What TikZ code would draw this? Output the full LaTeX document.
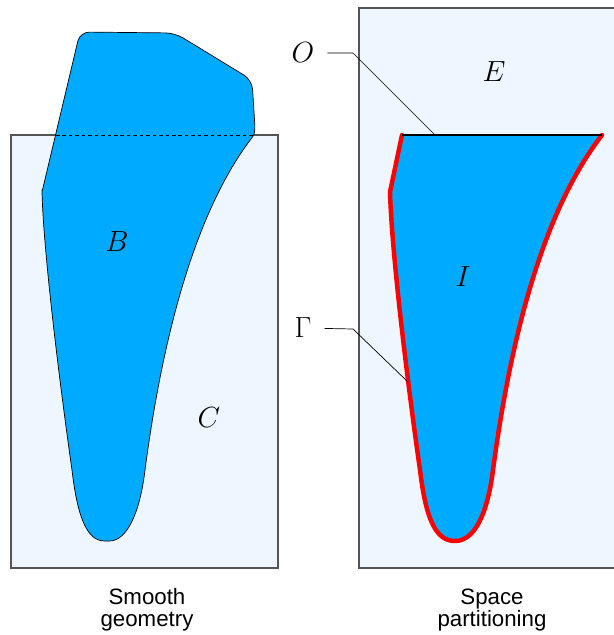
\documentclass[tikz,border=0pt]{standalone}
\usepackage{fontspec}
\newfontfamily\capfont{Liberation Sans}
\usetikzlibrary{positioning}
\definecolor{blobblue}{RGB}{0,170,255}
\definecolor{paleblue}{RGB}{238,247,255}
\definecolor{framegray}{RGB}{85,85,85}
\tikzset{region/.style={fill=paleblue,draw=framegray,line width=1.1pt},
  blob/.style={fill=blobblue,draw=black,line width=0.6pt},
  lead/.style={draw=black,line width=0.6pt,shorten <=9pt},
  lbl/.style={font=\fontsize{26}{30}\selectfont,inner sep=2pt},
  caption/.style={font=\capfont\fontsize{19}{18.5}\selectfont,align=center}}
% lower part of the body, from the right top corner round to the left kink
\newcommand{\blobcurve}{(254,135) .. controls (200,205) and (165,320) .. (145,470)
  .. controls (140,510) and (128,541) .. (107,541)
  .. controls (88,541) and (78,520) .. (72,470)
  .. controls (62,400) and (44,260) .. (42,192)}

\begin{document}
\begin{tikzpicture}[x=0.03cm,y=-0.03cm]
\useasboundingbox (0,0) rectangle (614,635);
\clip (0,0) rectangle (614,635);
\begin{scope}
 \draw[region] (11,135) rectangle (278,568);
 \filldraw[blob] (42,192) [rounded corners=8pt] -- (80,32) -- (175,33) -- (252,80) [rounded corners=2pt] -- (255,128) -- \blobcurve -- cycle;
 \draw[line width=0.6pt,dash pattern=on 3pt off 2.5pt] (56,135) -- (253,135);
 \node[lbl,font=\fontsize{24}{28}\selectfont] (B) at (117,242) {$B$};
 \node[lbl,font=\fontsize{25}{29}\selectfont] (C) at (209,418) {$C$};
 \node[caption,anchor=base] (smooth) at (147,626) {Smooth\\geometry};
\end{scope}
\draw[region] (359,8) rectangle (620,568);
\begin{scope}[shift={(348,0)}]
 \fill[blobblue] \blobcurve -- (54,135) -- cycle;
 \draw[red,line width=3.8pt,line cap=round,line join=round] \blobcurve -- (54,135);
 \draw[line width=2.3pt] (54,135) -- (254,135);
\end{scope}
\node[lbl] (E) at (494,72) {$E$};
\node[lbl] (I) at (463,277) {$I$};
\node[lbl] (O) at (303,53) {$O$};
\node[lbl] (G) at (303,328) {$\Gamma$};
\coordinate (obend) at (353,53);
\coordinate (otop) at (435,135);
\coordinate (gbend) at (353,329);
\coordinate (gedge) at (408,382);
\draw[lead] (O) -- (obend) -- (otop);
\draw[lead] (G) -- (gbend) -- (gedge);
\node[caption,anchor=base] (space) at (492,626) {Space\\partitioning};
\end{tikzpicture}
\end{document}
